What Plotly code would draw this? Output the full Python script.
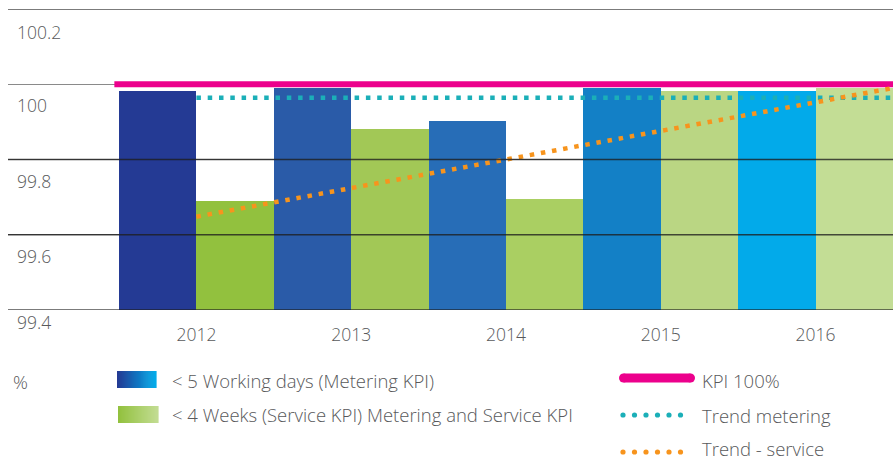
import plotly.graph_objects as go

# ---------------- data ----------------
years = ["2012", "2013", "2014", "2015", "2016"]
metering = [99.981, 99.991, 99.902, 99.991, 99.981]   # < 5 working days
service = [99.690, 99.880, 99.695, 99.981, 99.991]    # < 4 weeks

kpi_x = [-0.53, 4.5]
kpi_y = [100.0, 100.0]
trend_metering_x = [0, 4.5]
trend_metering_y = [99.964, 99.964]
trend_service_x = [0, 4.5]
trend_service_y = [99.648, 99.990]

y_ticks = [99.4, 99.6, 99.8, 100.0, 100.2]
y_ticktext = ["99.4", "99.6", "99.8", "100", "100.2"]

legend_labels = ["< 5 Working days (Metering KPI)",
                 "< 4 Weeks (Service KPI) Metering and Service KPI",
                 "KPI 100%", "Trend metering", "Trend - service"]
unit_label = "%"

# ---------------- style ----------------
W, H = 893, 461
ML, MR, MT, MB = 8, 0, 9, 151
PW, PH = W - ML - MR, H - MT - MB
FONT = "Open Sans"
TXT = "#58595b"
blue_cols = ["#243a94", "#2a5ba8", "#276db7", "#1380c6", "#02aaea"]
green_cols = ["#92c13e", "#a2c856", "#aacf62", "#bad683", "#c3dd95"]
PINK, TEAL, ORANGE = "#ec008c", "#1bafb8", "#f7941d"
ytick_shift = [-12, -21, -21, -21, -23]


def px_x(p):
    return (p - ML) / PW


def px_y(p):
    return (MT + PH - p) / PH


idx = list(range(len(years)))
fig = go.Figure()
fig.add_trace(go.Bar(x=idx, y=metering, marker=dict(color=blue_cols, line=dict(width=0)),
                     name=legend_labels[0], showlegend=False))
fig.add_trace(go.Bar(x=idx, y=service, marker=dict(color=green_cols, line=dict(width=0)),
                     name=legend_labels[1], showlegend=False))
fig.add_trace(go.Scatter(x=kpi_x, y=kpi_y, mode="lines", line=dict(color=PINK, width=6),
                         name=legend_labels[2], showlegend=False))
fig.add_trace(go.Scatter(x=trend_metering_x, y=trend_metering_y, mode="lines",
                         line=dict(color=TEAL, width=4.5, dash="4.5px,6.8px"),
                         name=legend_labels[3], showlegend=False))
fig.add_trace(go.Scatter(x=trend_service_x, y=trend_service_y, mode="lines",
                         line=dict(color=ORANGE, width=4.5, dash="4.5px,6.8px"),
                         name=legend_labels[4], showlegend=False))

shapes = []
# gridlines drawn above the bars (except the KPI level)
for v in y_ticks:
    if v == 100.0:
        continue
    shapes.append(dict(type="line", xref="paper", yref="y", x0=0, x1=1, y0=v, y1=v,
                       line=dict(color="rgba(30,30,30,0.78)", width=1.5), layer="above"))


def gradient(x0, x1, y0, y1, c0, c1, n=40):
    def h2r(h):
        return tuple(int(h[i:i + 2], 16) for i in (1, 3, 5))
    a, b = h2r(c0), h2r(c1)
    w = (x1 - x0) / n
    for i in range(n):
        t = i / (n - 1)
        col = "rgb(%d,%d,%d)" % tuple(round(a[k] + (b[k] - a[k]) * t) for k in range(3))
        shapes.append(dict(type="rect", xref="paper", yref="paper",
                           x0=px_x(x0 + i * w), x1=px_x(x0 + (i + 1) * w + 0.6),
                           y0=px_y(y1), y1=px_y(y0), line=dict(width=0), fillcolor=col,
                           layer="above"))


gradient(117, 156, 371, 388, "#243a94", "#00aae9")
gradient(118, 158, 406, 423, "#92c13e", "#c2dc92")

# pink legend swatch with rounded ends
shapes.append(dict(type="rect", xref="paper", yref="paper", x0=px_x(623.5), x1=px_x(690.5),
                   y0=px_y(382.5), y1=px_y(373.5), line=dict(width=0), fillcolor=PINK))
for cx in (623.5, 690.5):
    shapes.append(dict(type="circle", xref="paper", yref="paper", x0=px_x(cx - 4.5),
                       x1=px_x(cx + 4.5), y0=px_y(382.5), y1=px_y(373.5),
                       line=dict(width=0), fillcolor=PINK))
# dotted legend swatches
for cy, col in ((415, TEAL), (452, ORANGE)):
    for i in range(6):
        cx = 623 + i * 11.5
        shapes.append(dict(type="circle", xref="paper", yref="paper", x0=px_x(cx - 2.6),
                           x1=px_x(cx + 2.6), y0=px_y(cy + 2.6), y1=px_y(cy - 2.6),
                           line=dict(width=0), fillcolor=col))

annotations = []


def label(text, x, y, size=18.5):
    annotations.append(dict(text=text, xref="paper", yref="paper", x=px_x(x), y=px_y(y),
                            xanchor="left", yanchor="middle", showarrow=False,
                            font=dict(family=FONT, size=size, color=TXT, weight=300)))


label(unit_label, 11, 381)
label(legend_labels[0], 170, 380)
label(legend_labels[1], 170, 414)
label(legend_labels[2], 700, 380)
label(legend_labels[3], 700, 415)
label(legend_labels[4], 700, 448.5)

# y tick labels, placed just below their gridlines
for v, t, s in zip(y_ticks, y_ticktext, ytick_shift):
    annotations.append(dict(text=t, xref="paper", yref="y", x=px_x(15), y=v, yshift=s,
                            xanchor="left", yanchor="middle", showarrow=False,
                            font=dict(family=FONT, size=17.5, color=TXT, weight=300)))

fig.update_layout(
    width=W, height=H,
    margin=dict(l=ML, r=MR, t=MT, b=MB, pad=0),
    paper_bgcolor="white", plot_bgcolor="white",
    barmode="group", bargap=0, bargroupgap=0,
    showlegend=False,
    font=dict(family=FONT, color=TXT, weight=300),
    xaxis=dict(range=[-0.5 - 111 / 154.8, 4.5], tickmode="array", tickvals=idx, ticktext=years,
               showgrid=False, zeroline=False, showline=False, ticks="",
               tickfont=dict(family=FONT, size=17.5, color=TXT, weight=300),
               ticklabelstandoff=12),
    yaxis=dict(range=[99.4, 100.2], tickmode="array", tickvals=y_ticks,
               showgrid=True, gridcolor="#8a8a8a", gridwidth=1, zeroline=False, showline=False,
               ticks="", showticklabels=False),
    shapes=shapes, annotations=annotations,
)

fig.write_html("out.html", config={"displayModeBar": False},
               post_script="document.body.style.margin='0';document.body.style.padding='0';")
